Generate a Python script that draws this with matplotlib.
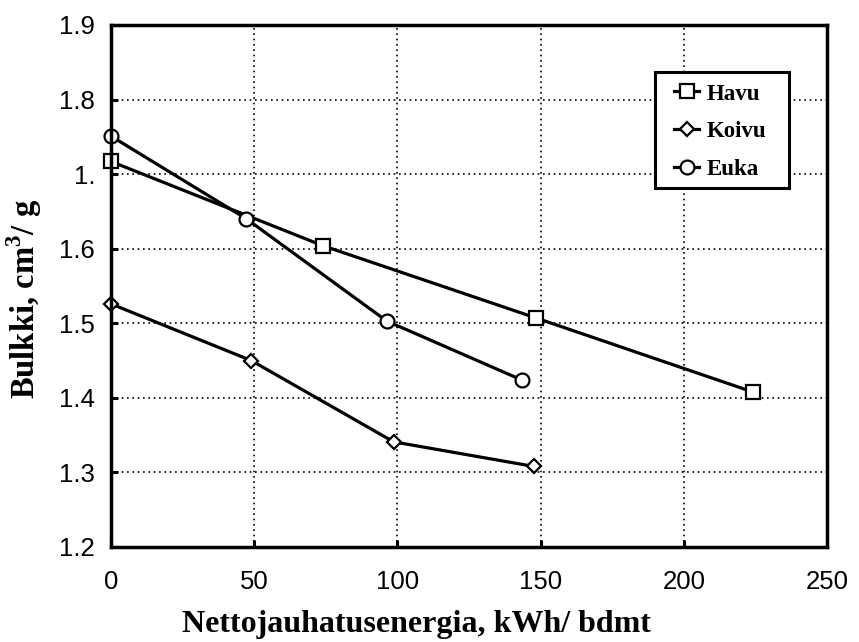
import matplotlib
matplotlib.use("Agg")
import matplotlib.pyplot as plt
from matplotlib.legend_handler import HandlerLine2D
from matplotlib.patches import Rectangle
import numpy as np

# Data
havu_x = [0, 74, 148.5, 224]
havu_y = [1.717, 1.604, 1.507, 1.408]
koivu_x = [0, 49, 98.7, 147.7]
koivu_y = [1.526, 1.450, 1.341, 1.308]
euka_x = [0, 47.3, 96.3, 143.4]
euka_y = [1.751, 1.640, 1.503, 1.424]

x_ticks = [0, 50, 100, 150, 200, 250]
x_ticklabels = ["0", "50", "100", "150", "200", "250"]
y_ticks = [1.2, 1.3, 1.4, 1.5, 1.6, 1.7, 1.8, 1.9]
y_ticklabels = ["1.2", "1.3", "1.4", "1.5", "1.6", "1.", "1.8", "1.9"]

serif = ["Liberation Serif", "DejaVu Serif"]
sans = ["Liberation Sans", "DejaVu Sans"]

fig = plt.figure(figsize=(8.59, 6.42), dpi=100)
ax = fig.add_axes([111/859, 1-547/642, (827-111)/859, (547-25)/642])

common = dict(color="black", lw=2.3, markerfacecolor="white",
              markeredgecolor="black", markeredgewidth=1.6, clip_on=False, zorder=3)
ax.plot(havu_x, havu_y, marker="s", markersize=9.4, label="Havu", **common)
ax.plot(koivu_x, koivu_y, marker="D", markersize=6.8, label="Koivu", **common)
ax.plot(euka_x, euka_y, marker="o", markersize=10, label="Euka", **common)

ax.set_xlim(0, 250)
ax.set_ylim(1.2, 1.9)
ax.set_xticks(x_ticks)
ax.set_xticklabels(x_ticklabels, fontfamily=sans, fontsize=18.5)
ax.set_yticks(y_ticks)
ax.set_yticklabels(y_ticklabels, fontfamily=sans, fontsize=18.5)
ax.tick_params(axis="both", direction="in", length=5, width=2.2, color="black")
ax.tick_params(axis="x", pad=16.5)
ax.tick_params(axis="y", pad=11.5)

ax.grid(True, color="black", linestyle=(0, (1, 2.2)), linewidth=1.2)
ax.set_axisbelow(True)
for s in ax.spines.values():
    s.set_linewidth(2.5)
    s.set_zorder(4)

ax.set_xlabel("Nettojauhatusenergia, kWh/ bdmt", fontfamily=serif,
              fontweight="bold", fontsize=23)
ax.xaxis.set_label_coords(0.427, -0.12)
ax.set_ylabel("Bulkki, cm$^\\mathregular{3}$/ g", fontfamily=serif,
              fontweight="bold", fontsize=23.5)
ax.yaxis.set_label_coords(-0.094, 0.475)


class EndMarkerHandler(HandlerLine2D):
    def get_xdata(self, legend, xdescent, ydescent, width, height, fontsize):
        xdata = np.array([-xdescent, -xdescent + width])
        xdata_marker = np.array([-xdescent + width])
        return xdata, xdata_marker


# legend frame (box) drawn as a patch in axes coordinates
frame = Rectangle((0.7598, 0.6877), 0.1871, 0.2223, transform=ax.transAxes,
                  facecolor="white", edgecolor="black", linewidth=2.2,
                  zorder=5, clip_on=False)
ax.add_patch(frame)

leg = ax.legend(loc="upper left", bbox_to_anchor=(0.787, 0.888), borderaxespad=0,
                frameon=False,
                prop={"family": serif, "weight": "bold", "size": 16.5},
                handlelength=1.05, handletextpad=0.35, labelspacing=0.72,
                borderpad=0, numpoints=1,
                handler_map={matplotlib.lines.Line2D: EndMarkerHandler()})
leg.set_zorder(6)

fig.savefig("out.png", dpi=100)
